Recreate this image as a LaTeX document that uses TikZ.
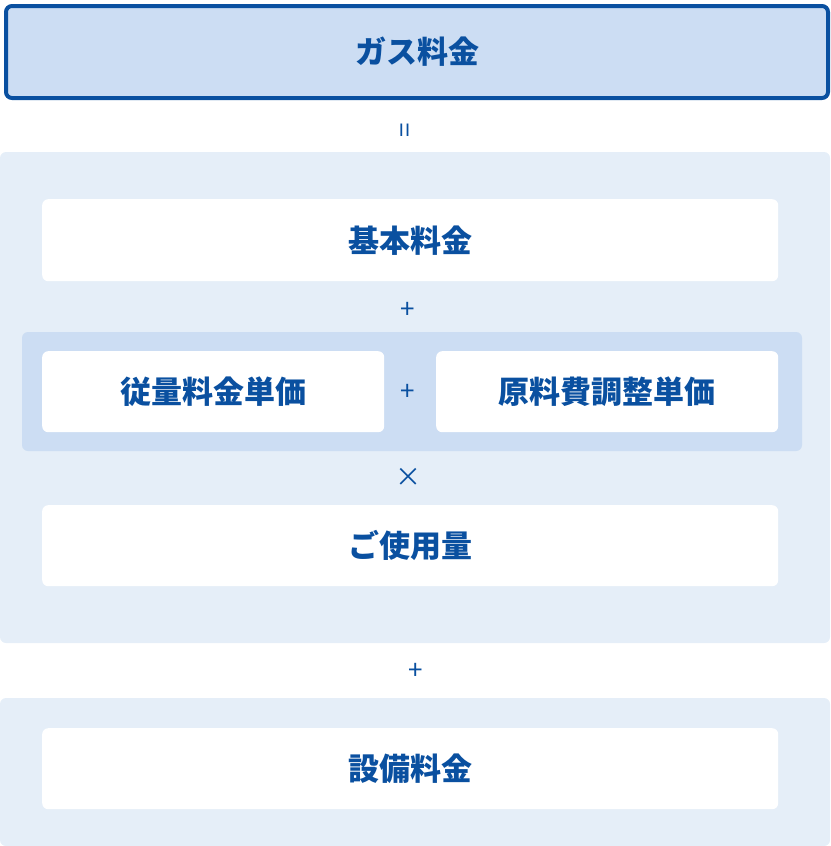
\documentclass[tikz,border=0pt]{standalone}
\usepackage{fontspec}
\newfontfamily\cjk{Noto Sans CJK JP}
\definecolor{navy}{HTML}{0A50A0}
\definecolor{paleblue}{HTML}{CCDDF3}
\definecolor{bgblue}{HTML}{E5EEF8}
\tikzset{
  item/.style={rectangle,rounded corners=6pt,fill=white,anchor=north west,inner sep=0pt,
    text=navy,font=\cjk\bfseries\fontsize{31}{36}\selectfont},
  op/.style={text=navy,font=\cjk\fontsize{26}{30}\selectfont,inner sep=0pt}
}
\begin{document}
\begin{tikzpicture}[x=1pt,y=-1pt]
    \useasboundingbox (0,0) rectangle (830,846);
    % panels
    \fill[bgblue,rounded corners=6pt] (0,152) rectangle (830,643);
    \fill[bgblue,rounded corners=6pt] (0,698) rectangle (830,846);
    \fill[paleblue,rounded corners=6pt] (22,332) rectangle (802,451);

    \node[item,fill=paleblue,draw=navy,line width=4pt,minimum width=822pt,minimum height=92pt] (gas) at (4,4) {ガス料金};
    \node[op,rotate=90] (eq) at (408,130) {=};
    \node[item,minimum width=736pt,minimum height=82pt] (kihon) at (42,199) {基本料金};
    \node[op] (plus1) at (408,310) {+};
    \node[item,minimum width=342pt,minimum height=81pt] (juryo) at (42,351) {従量料金単価};
    \node[op] (plus2) at (408,392) {+};
    \node[item,minimum width=342pt,minimum height=81pt] (genryo) at (436,351) {原料費調整単価};
    \node[op] (times) at (408,477) {×};
    \node[item,minimum width=736pt,minimum height=81pt] (shiyo) at (42,505) {ご使用量};
    \node[op] (plus3) at (416,671) {+};
    \node[item,minimum width=736pt,minimum height=81pt] (setsubi) at (42,728) {設備料金};
\end{tikzpicture}
\end{document}
